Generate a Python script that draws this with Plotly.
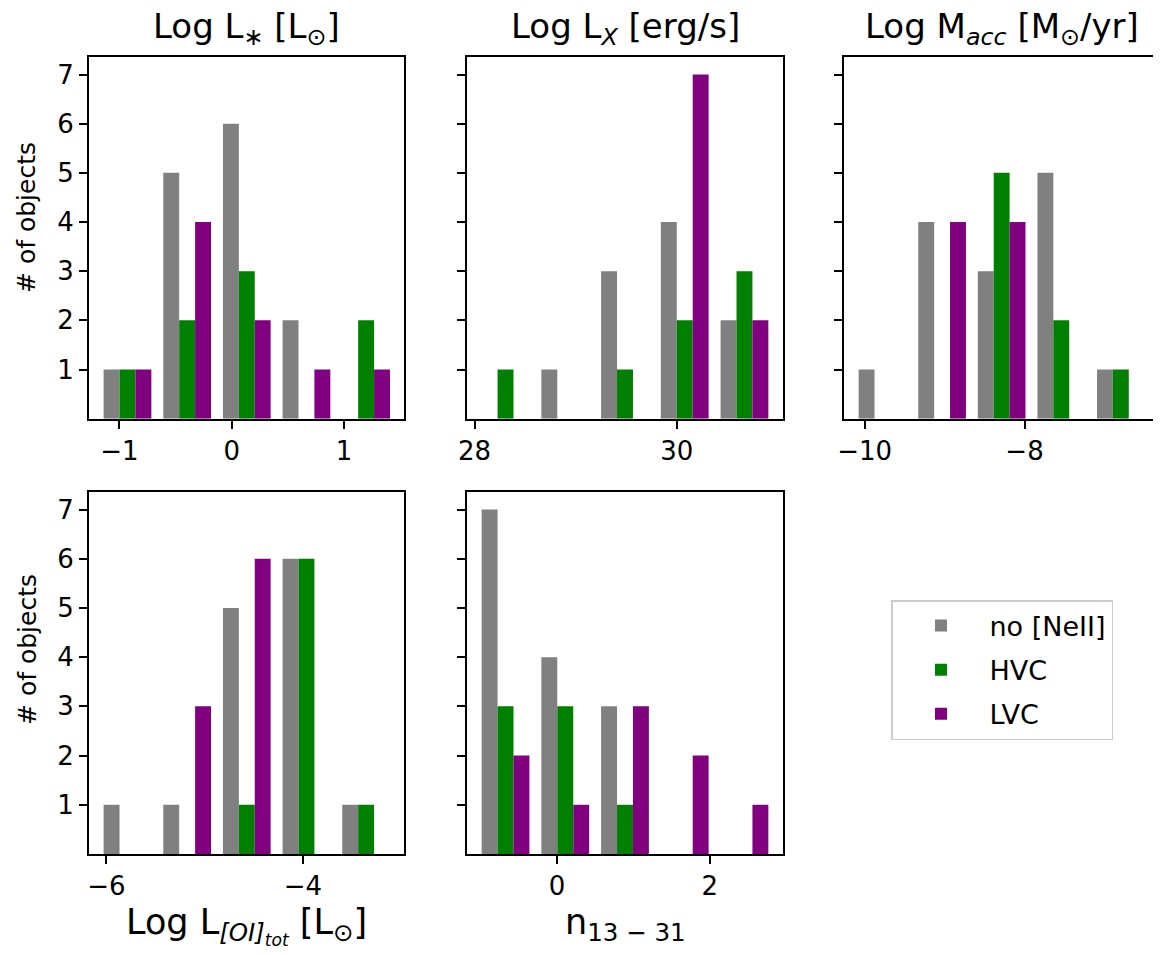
import plotly.graph_objects as go

# ---------------- data ----------------
series_names = ["no [NeII]", "HVC", "LVC"]
series_colors = ["gray", "green", "purple"]

# bin centres per panel
lstar_bins = [-0.928, -0.397, 0.134, 0.665, 1.196]
lx_bins = [28.306, 28.897, 29.488, 30.079, 30.670]
macc_bins = [-9.777, -9.031, -8.286, -7.540, -6.795]
loi_bins = [-5.785, -5.178, -4.571, -3.964, -3.357]
n1331_bins = [-0.674, 0.108, 0.890, 1.672, 2.454]

# counts per panel: [no NeII, HVC, LVC]
lstar_counts = [[1, 5, 6, 2, 0], [1, 2, 3, 0, 2], [1, 4, 2, 1, 1]]
lx_counts = [[0, 1, 3, 4, 2], [1, 0, 1, 2, 3], [0, 0, 0, 7, 2]]
macc_counts = [[1, 4, 3, 5, 1], [0, 0, 5, 2, 1], [0, 4, 4, 0, 0]]
loi_counts = [[1, 1, 5, 6, 1], [0, 0, 1, 6, 1], [0, 3, 6, 0, 0]]
n1331_counts = [[7, 4, 3, 0, 0], [3, 3, 1, 0, 0], [2, 1, 3, 2, 1]]

y_ticks = [1, 2, 3, 4, 5, 6, 7]

panels = [
    dict(bins=lstar_bins, counts=lstar_counts, dtick=1, tick0=0,
         title="Log L<sub>∗</sub> [L<sub>⊙</sub>]", xlabel=None),
    dict(bins=lx_bins, counts=lx_counts, dtick=2, tick0=0,
         title="Log L<sub><i>X</i></sub> [erg/s]", xlabel=None),
    dict(bins=macc_bins, counts=macc_counts, dtick=2, tick0=0,
         title="Log M<sub><i>acc</i></sub> [M<sub>⊙</sub>/yr]", xlabel=None),
    dict(bins=loi_bins, counts=loi_counts, dtick=2, tick0=0,
         title=None, xlabel="Log L<sub><i>[OI]</i></sub><sub><sub><i>tot</i></sub></sub> [L<sub>⊙</sub>]"),
    dict(bins=n1331_bins, counts=n1331_counts, dtick=2, tick0=0,
         title=None, xlabel="n<sub>13 − 31</sub>"),
]

# ---------------- layout geometry (screen pixels) ----------------
SCREEN_W, SCREEN_H = 1161, 954
OFF = 8  # page body margin around the plot div
W, H = SCREEN_W - OFF, SCREEN_H - OFF


def fx(px):
    return (px - OFF) / W


def fy(py):
    return 1 - (py - OFF) / H


col_px = [(89.3, 404.3), (467.3, 782.7), (844.3, 1159.0)]
row_px = [(57.3, 418.7), (492.3, 854.0)]
cells = [(0, 0), (0, 1), (0, 2), (1, 0), (1, 1)]

FONT = "DejaVu Sans"
fig = go.Figure()
annotations = []

for i, (p, (r, c)) in enumerate(zip(panels, cells)):
    k = i + 1
    xa = "x" if k == 1 else f"x{k}"
    ya = "y" if k == 1 else f"y{k}"
    for s in range(3):
        fig.add_trace(go.Bar(
            x=p["bins"], y=p["counts"][s], name=series_names[s],
            marker=dict(color=series_colors[s], line=dict(width=0)),
            xaxis=xa, yaxis=ya, showlegend=(k == 1),
            legendgroup=series_names[s],
        ))
    bins = p["bins"]
    w = bins[1] - bins[0]
    lo = bins[0] - 0.4 * w
    hi = bins[-1] + 0.4 * w
    pad = 0.05 * (hi - lo)
    x0, x1 = col_px[c]
    yt, yb = row_px[r]
    axis_common = dict(showline=True, linecolor="black", linewidth=2.4, mirror=True,
                       ticks="outside", ticklen=8, tickwidth=2.4, tickcolor="black",
                       showgrid=False, zeroline=False, automargin=False,
                       tickfont=dict(family=FONT, size=26, color="black"))
    fig.layout[f"xaxis{k}" if k > 1 else "xaxis"] = dict(
        domain=[fx(x0), fx(x1)], anchor=ya, range=[lo - pad, hi + pad],
        tickmode="linear", tick0=p["tick0"], dtick=p["dtick"], **axis_common)
    fig.layout[f"yaxis{k}" if k > 1 else "yaxis"] = dict(
        domain=[fy(yb), fy(yt)], anchor=xa, range=[0, 7.35],
        tickmode="array", tickvals=y_ticks, showticklabels=(c == 0), **axis_common)
    xc = fx((x0 + x1) / 2)
    if p["title"]:
        annotations.append(dict(text=p["title"], x=xc, y=fy(yt), xref="paper", yref="paper",
                                xanchor="center", yanchor="bottom", yshift=4, showarrow=False,
                                font=dict(family=FONT, size=34, color="black")))
    if p["xlabel"]:
        annotations.append(dict(text=p["xlabel"], x=xc, y=fy(yb), xref="paper", yref="paper",
                                xanchor="center", yanchor="top", yshift=-46, showarrow=False,
                                font=dict(family=FONT, size=35, color="black")))

for yc in (218, 650):
    annotations.append(dict(text="# of objects", x=fx(27), y=fy(yc), xref="paper", yref="paper",
                            xanchor="center", yanchor="middle", textangle=-90, showarrow=False,
                            font=dict(family=FONT, size=25, color="black")))

fig.update_layout(
    width=W, height=H, autosize=False,
    margin=dict(l=0, r=0, t=0, b=0, autoexpand=False),
    paper_bgcolor="white", plot_bgcolor="white",
    barmode="group", bargap=0.2, bargroupgap=0,
    font=dict(family=FONT, color="black"),
    annotations=annotations,
    legend=dict(x=fx(891), y=fy(600), xanchor="left", yanchor="top",
                bgcolor="white", bordercolor="#cccccc", borderwidth=1.5,
                font=dict(family=FONT, size=27, color="black"),
                traceorder="grouped", tracegroupgap=6, itemwidth=87),
)

fig.write_html("out.html")
